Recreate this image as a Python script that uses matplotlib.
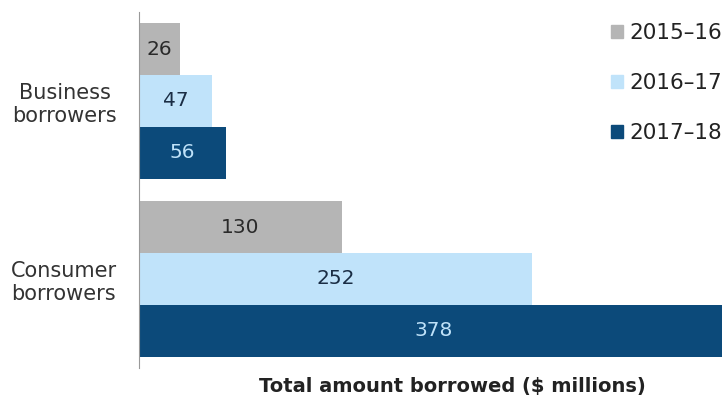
import matplotlib.pyplot as plt
from matplotlib.patches import Patch

plt.rcParams['font.family'] = ['DejaVu Sans']

categories = ["Business\nborrowers", "Consumer\nborrowers"]
years = ["2015\u201316", "2016\u201317", "2017\u201318"]
values = {
    "2015\u201316": [26, 130],
    "2016\u201317": [47, 252],
    "2017\u201318": [56, 378],
}

colors = ["#b5b5b5", "#c0e3fa", "#0c4a7a"]
text_colors = ["#2a2a2a", "#1a2d44", "#bfe2f9"]

fig = plt.figure(figsize=(7.22, 3.99), dpi=100)
ax = fig.add_axes([139 / 722, 1 - 368 / 399, (722 - 139) / 722, 356 / 399])

h = 0.292
for i, yr in enumerate(years):
    pos = [c + (i - 1) * h for c in range(len(categories))]
    bars = ax.barh(pos, values[yr], height=h, color=colors[i])
    for b, v in zip(bars, values[yr]):
        ax.text(v / 2, b.get_y() + h / 2, str(v), ha="center", va="center",
                fontsize=14.5, color=text_colors[i])

ax.set_xlim(0, 374)
ax.set_ylim(1.5, -0.5)
ax.set_yticks(range(len(categories)))
ax.set_yticklabels(categories, fontsize=15, color="#333333", multialignment="center")
ax.tick_params(axis="y", length=0, pad=16)
ax.set_xticks([])
for s in ["top", "right", "bottom"]:
    ax.spines[s].set_visible(False)
ax.spines["left"].set_color("#999999")

ax.set_xlabel("Total amount borrowed ($ millions)", fontsize=14, fontweight="bold",
              color="#222222")
ax.xaxis.set_label_coords(0.537, -0.025, transform=ax.transAxes)
ax.xaxis.label.set_va("top")

handles = [Patch(color=c, label=y) for c, y in zip(colors, years)]
ax.legend(handles=handles, loc="upper right", bbox_to_anchor=(1.0, 1 - 11 / 356),
          frameon=False, fontsize=15.5, handlelength=0.55, handleheight=0.55,
          handletextpad=0.3, labelspacing=1.4, borderaxespad=0, borderpad=0,
          labelcolor="#222222")

fig.savefig("out.png", dpi=100)
